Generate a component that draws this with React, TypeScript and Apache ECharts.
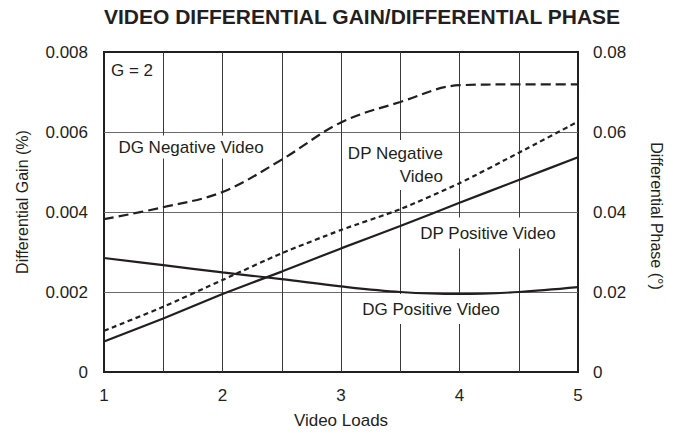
import { useEffect, useRef } from "react";
import * as echarts from "echarts";

// Data
const xLoads = [1, 1.5, 2, 2.5, 3, 3.5, 4, 4.5, 5];
// Differential gain (%), left axis
const dgNegative = [0.00382, 0.00412, 0.0045, 0.00531, 0.00624, 0.00675, 0.00717, 0.00719, 0.00719];
const dgPositive = [0.00285, 0.00267, 0.00249, 0.00232, 0.00214, 0.002, 0.00195, 0.002, 0.00212];
// Differential phase (deg), right axis
const dpNegative = [0.0103, 0.0163, 0.023, 0.0297, 0.0355, 0.0407, 0.0472, 0.0548, 0.0626];
const dpPositive = [0.0076, 0.0134, 0.0195, 0.0251, 0.0309, 0.0365, 0.0423, 0.048, 0.0537];

const titleText = "VIDEO DIFFERENTIAL GAIN/DIFFERENTIAL PHASE";
const xName = "Video Loads";
const leftName = "Differential Gain (%)";
const rightName = "Differential Phase (°)";

const INK = "#231f20";
const FONT = "'Liberation Sans', Arial, Helvetica, sans-serif";

const pairs = (ys: number[]) => xLoads.map((x, i) => [x, ys[i]]);

export default function App() {
  const ref = useRef<HTMLDivElement>(null);

  useEffect(() => {
    document.body.style.margin = "0";
    if (!ref.current) return;
    const chart = echarts.init(ref.current, undefined, { renderer: "svg" });

    const lineBase = {
      type: "line" as const,
      showSymbol: false,
      symbol: "none",
      z: 3,
    };

    const labelStyle = (extra: any) => ({
      fontSize: 17,
      fontFamily: FONT,
      fill: INK,
      ...extra,
    });

    chart.setOption({
      animation: false,
      backgroundColor: "#ffffff",
      title: {
        text: titleText,
        left: 104,
        top: 6,
        padding: 0,
        textStyle: { fontSize: 21, fontWeight: "bold", color: INK, fontFamily: FONT },
      },
      grid: {
        left: 104,
        right: 96,
        top: 52,
        bottom: 64,
        show: true,
        borderColor: INK,
        borderWidth: 2,
        backgroundColor: "transparent",
      },
      xAxis: {
        type: "value",
        min: 1,
        max: 5,
        interval: 0.5,
        name: xName,
        nameLocation: "middle",
        nameGap: 40,
        nameTextStyle: { fontSize: 17, color: INK, fontFamily: FONT },
        axisLine: { show: false },
        axisTick: { show: false },
        axisLabel: {
          margin: 15,
          fontSize: 17,
          color: INK,
          fontFamily: FONT,
          formatter: (v: number) => (Number.isInteger(v) ? String(v) : ""),
        },
        splitLine: {
          show: true,
          showMinLine: false,
          showMaxLine: false,
          lineStyle: { color: "#3a3a3a", width: 1 },
        },
      },
      yAxis: [
        {
          type: "value",
          min: 0,
          max: 0.008,
          interval: 0.002,
          position: "left",
          axisLine: { show: false },
          axisTick: { show: false },
          axisLabel: {
            margin: 16,
            fontSize: 17,
            color: INK,
            fontFamily: FONT,
            formatter: (v: number) => (v === 0 ? "0" : v.toFixed(3)),
          },
          splitLine: {
            show: true,
            showMinLine: false,
            showMaxLine: false,
            lineStyle: { color: "#6a6a6a", width: 1 },
          },
        },
        {
          type: "value",
          min: 0,
          max: 0.08,
          interval: 0.02,
          position: "right",
          axisLine: { show: false },
          axisTick: { show: false },
          axisLabel: {
            margin: 15,
            fontSize: 17,
            color: INK,
            fontFamily: FONT,
            formatter: (v: number) => (v === 0 ? "0" : v.toFixed(2)),
          },
          splitLine: { show: false },
        },
      ],
      graphic: [
        {
          type: "text",
          x: 22,
          y: 202,
          rotation: Math.PI / 2,
          z: 5,
          style: labelStyle({ text: leftName, fontSize: 16, align: "center", verticalAlign: "middle" }),
        },
        {
          type: "text",
          x: 656,
          y: 216,
          rotation: -Math.PI / 2,
          z: 5,
          style: labelStyle({ text: rightName, fontSize: 16, align: "center", verticalAlign: "middle" }),
        },
        {
          type: "text",
          x: 111,
          y: 70,
          z: 1,
          style: labelStyle({ text: "G = 2", align: "left", verticalAlign: "middle" }),
        },
        {
          type: "text",
          x: 191,
          y: 147,
          z: 1,
          style: labelStyle({
            text: "DG Negative Video",
            align: "center",
            verticalAlign: "middle",
            backgroundColor: "#ffffff",
            padding: [3, 4],
          }),
        },
        {
          type: "text",
          x: 446,
          y: 165,
          z: 1,
          style: labelStyle({
            text: "DP Negative\nVideo",
            align: "right",
            verticalAlign: "middle",
            lineHeight: 23,
            backgroundColor: "#ffffff",
            padding: [2, 3],
          }),
        },
        {
          type: "text",
          x: 488,
          y: 233,
          z: 1,
          style: labelStyle({
            text: "DP Positive Video",
            align: "center",
            verticalAlign: "middle",
            backgroundColor: "#ffffff",
            padding: [7, 4, 7, 4],
          }),
        },
        {
          type: "text",
          x: 431,
          y: 309,
          z: 1,
          style: labelStyle({
            text: "DG Positive Video",
            align: "center",
            verticalAlign: "middle",
            backgroundColor: "#ffffff",
            padding: [5, 4, 8, 4],
          }),
        },
      ],
      series: [
        {
          ...lineBase,
          name: "DG Negative Video",
          yAxisIndex: 0,
          smooth: 0.35,
          data: pairs(dgNegative),
          lineStyle: { color: INK, width: 2.2, type: [10, 5] },
        },
        {
          ...lineBase,
          name: "DG Positive Video",
          yAxisIndex: 0,
          smooth: 0.35,
          data: pairs(dgPositive),
          lineStyle: { color: INK, width: 2.2, type: "solid" },
        },
        {
          ...lineBase,
          name: "DP Negative Video",
          yAxisIndex: 1,
          smooth: 0.2,
          data: pairs(dpNegative),
          lineStyle: { color: INK, width: 2.2, type: [5, 3.5] },
        },
        {
          ...lineBase,
          name: "DP Positive Video",
          yAxisIndex: 1,
          smooth: 0.2,
          data: pairs(dpPositive),
          lineStyle: { color: INK, width: 2.2, type: "solid" },
        },
      ],
    });

    return () => chart.dispose();
  }, []);

  return <div ref={ref} style={{ width: 674, height: 436 }} />;
}
